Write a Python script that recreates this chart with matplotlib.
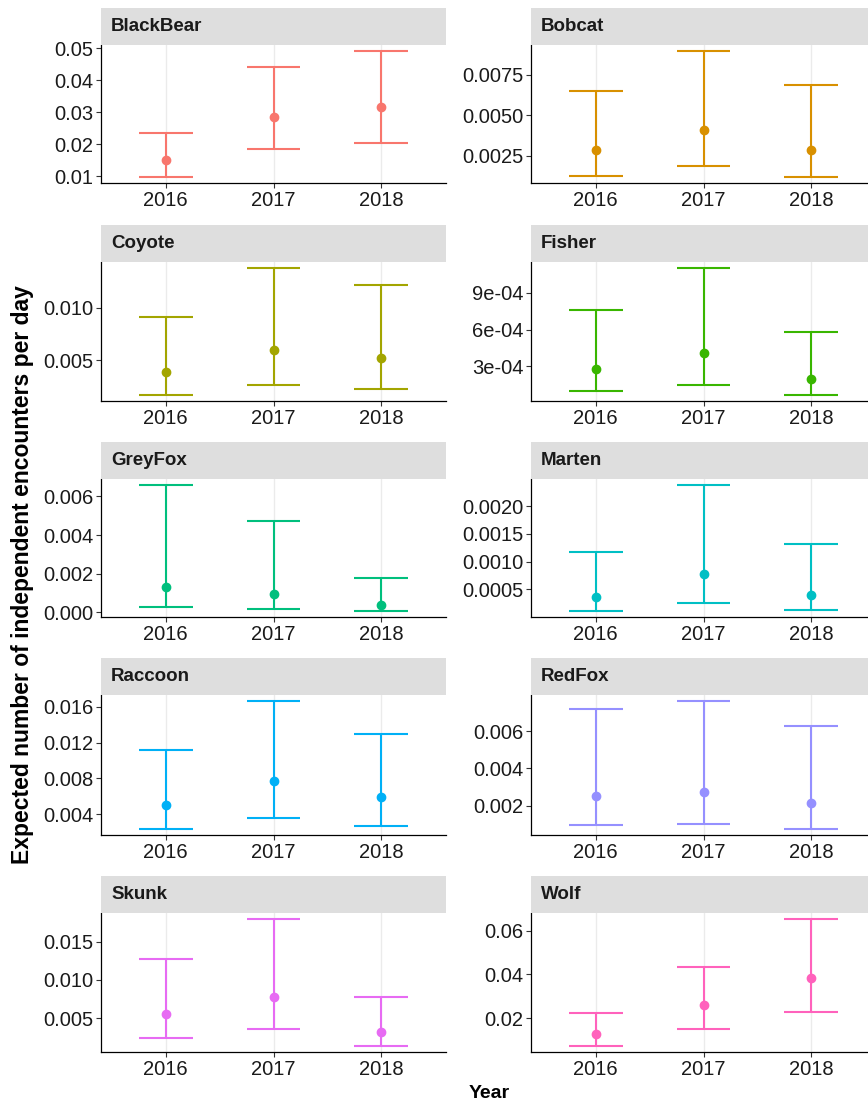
import matplotlib
matplotlib.use("Agg")
import matplotlib.pyplot as plt

plt.rcParams["font.family"] = ["Liberation Sans", "DejaVu Sans"]

# ---- data -------------------------------------------------------------
years = ["2016", "2017", "2018"]
species = ["BlackBear", "Bobcat", "Coyote", "Fisher", "GreyFox",
           "Marten", "Raccoon", "RedFox", "Skunk", "Wolf"]

estimate = {
    "BlackBear": [0.0151, 0.0285, 0.0315],
    "Bobcat":    [0.00287, 0.00407, 0.00287],
    "Coyote":    [0.00392, 0.00601, 0.00522],
    "Fisher":    [0.000281, 0.000406, 0.000197],
    "GreyFox":   [0.00134, 0.00096, 0.00039],
    "Marten":    [0.000364, 0.000768, 0.000400],
    "Raccoon":   [0.00505, 0.00774, 0.00588],
    "RedFox":    [0.00254, 0.00272, 0.00214],
    "Skunk":     [0.00558, 0.00781, 0.00313],
    "Wolf":      [0.0130, 0.0260, 0.0386],
}
lower = {
    "BlackBear": [0.0098, 0.0185, 0.0203],
    "Bobcat":    [0.00126, 0.00189, 0.00122],
    "Coyote":    [0.00174, 0.00266, 0.00228],
    "Fisher":    [0.000100, 0.000151, 0.000069],
    "GreyFox":   [0.00027, 0.00020, 0.00009],
    "Marten":    [0.000114, 0.000250, 0.000120],
    "Raccoon":   [0.00239, 0.00358, 0.00273],
    "RedFox":    [0.00094, 0.00099, 0.00076],
    "Skunk":     [0.00243, 0.00352, 0.00139],
    "Wolf":      [0.00755, 0.0153, 0.0230],
}
upper = {
    "BlackBear": [0.0236, 0.0442, 0.0490],
    "Bobcat":    [0.00652, 0.00895, 0.00689],
    "Coyote":    [0.00915, 0.01374, 0.01213],
    "Fisher":    [0.000763, 0.001101, 0.000581],
    "GreyFox":   [0.00658, 0.00473, 0.00178],
    "Marten":    [0.00117, 0.002375, 0.00132],
    "Raccoon":   [0.01121, 0.01663, 0.01294],
    "RedFox":    [0.00719, 0.00760, 0.00627],
    "Skunk":     [0.0127, 0.01792, 0.00772],
    "Wolf":      [0.0223, 0.0436, 0.0651],
}

ytick_values = {
    "BlackBear": [0.01, 0.02, 0.03, 0.04, 0.05],
    "Bobcat":    [0.0025, 0.0050, 0.0075],
    "Coyote":    [0.005, 0.010],
    "Fisher":    [3e-4, 6e-4, 9e-4],
    "GreyFox":   [0.000, 0.002, 0.004, 0.006],
    "Marten":    [0.0005, 0.0010, 0.0015, 0.0020],
    "Raccoon":   [0.004, 0.008, 0.012, 0.016],
    "RedFox":    [0.002, 0.004, 0.006],
    "Skunk":     [0.005, 0.010, 0.015],
    "Wolf":      [0.02, 0.04, 0.06],
}
ytick_labels = {
    "BlackBear": ["0.01", "0.02", "0.03", "0.04", "0.05"],
    "Bobcat":    ["0.0025", "0.0050", "0.0075"],
    "Coyote":    ["0.005", "0.010"],
    "Fisher":    ["3e-04", "6e-04", "9e-04"],
    "GreyFox":   ["0.000", "0.002", "0.004", "0.006"],
    "Marten":    ["0.0005", "0.0010", "0.0015", "0.0020"],
    "Raccoon":   ["0.004", "0.008", "0.012", "0.016"],
    "RedFox":    ["0.002", "0.004", "0.006"],
    "Skunk":     ["0.005", "0.010", "0.015"],
    "Wolf":      ["0.02", "0.04", "0.06"],
}

colors = ["#F8766D", "#D89000", "#A3A500", "#39B600", "#00BF7D",
          "#00BFC4", "#00B0F6", "#9590FF", "#E76BF3", "#FF62BC"]

# ---- layout (pixels) -------------------------------------------------
W, H = 868, 1105
col_left = [101, 531]
panel_w = 345
strip_bottom = [45, 262, 479, 695, 913]
axis_bottom = [183, 401, 617, 835, 1052]
strip_h = 37

fig = plt.figure(figsize=(W / 100, H / 100), dpi=100)
fig.patch.set_facecolor("white")

xpos = [1, 2, 3]

for i, sp in enumerate(species):
    row, col = divmod(i, 2)
    x0 = col_left[col]
    y_top = strip_bottom[row]
    y_bot = axis_bottom[row]
    ax = fig.add_axes([x0 / W, 1 - y_bot / H, panel_w / W, (y_bot - y_top) / H])
    c = colors[i]

    lo, est, hi = lower[sp], estimate[sp], upper[sp]
    for xi, l, e, h in zip(xpos, lo, est, hi):
        ax.vlines(xi, l, h, color=c, lw=1.5, zorder=3)
        ax.hlines([l, h], xi - 0.25, xi + 0.25, color=c, lw=1.5, zorder=3)
    ax.plot(xpos, est, "o", color=c, ms=6, zorder=4)

    ymin, ymax = min(lo + est), max(hi + est)
    pad = 0.05 * (ymax - ymin)
    ax.set_ylim(ymin - pad, ymax + pad)
    ax.set_xlim(0.4, 3.6)

    ax.set_xticks(xpos)
    ax.set_xticklabels(years)
    ax.set_yticks(ytick_values[sp])
    ax.set_yticklabels(ytick_labels[sp])

    for xi in xpos:
        ax.axvline(xi, color="#EBEBEB", lw=1.0, zorder=0)

    for s in ["top", "right"]:
        ax.spines[s].set_visible(False)
    for s in ["left", "bottom"]:
        ax.spines[s].set_color("black")
        ax.spines[s].set_linewidth(0.9)
    ax.tick_params(axis="both", length=3.5, width=0.8, color="#333333",
                   labelsize=14.5, labelcolor="#1a1a1a", pad=2)

    sax = fig.add_axes([x0 / W, 1 - y_top / H, panel_w / W, strip_h / H])
    sax.set_facecolor("#DEDEDE")
    sax.set_xticks([])
    sax.set_yticks([])
    for s in sax.spines.values():
        s.set_visible(False)
    sax.text(10 / panel_w, 0.5, sp, transform=sax.transAxes, ha="left",
             va="center", fontsize=13.5, fontweight="bold", color="#1a1a1a")

fig.text(23 / W, 1 - 575 / H, "Expected number of independent encounters per day",
         rotation=90, ha="center", va="center", fontsize=16.5, fontweight="bold")
fig.text(489 / W, 1 - 1093 / H, "Year", ha="center", va="center",
         fontsize=14, fontweight="bold")

fig.savefig("out.png", dpi=100, facecolor="white")
